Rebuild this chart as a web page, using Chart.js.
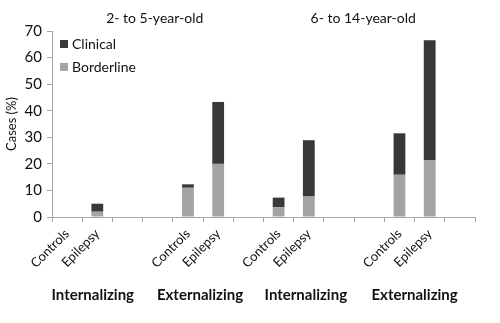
<!DOCTYPE html>
<html>
<head>
<meta charset="utf-8">
<script src="https://cdn.jsdelivr.net/npm/chart.js@4/dist/chart.umd.min.js"></script>
<style>
  html, body { margin: 0; padding: 0; background: #fff; }
</style>
</head>
<body>
<canvas id="chart" width="500" height="323"></canvas>
<script>
// categories (blank entries are the gaps between groups)
var categories = ["Controls", "Epilepsy", "", "", "Controls", "Epilepsy", "", "Controls", "Epilepsy", "", "", "Controls", "Epilepsy", ""];
var borderline = [0, 2, null, null, 11, 20, null, 3.7, 7.7, null, null, 15.9, 21.3, null];
var clinical   = [0, 3, null, null, 1.3, 23.3, null, 3.6, 21.2, null, null, 15.6, 45.2, null];
var yTicks = [0, 10, 20, 30, 40, 50, 60, 70];

// group labels under the axis and age titles above, anchored on category index
var groupLabels = ["Internalizing", "Externalizing", "Internalizing", "Externalizing"];
var groupAnchors = [0.85, 4.4, 7.9, 11.5];
var ageTitles = ["2- to 5-year-old", "6- to 14-year-old"];
var ageAnchors = [2.9, 9.8];

var FONT = "Lato, 'Liberation Sans', sans-serif";

// titles, group labels and the in-plot legend (Clinical on top)
var extraText = {
  id: 'extraText',
  afterDraw: function (chart) {
    var c = chart.ctx, x = chart.scales.x, area = chart.chartArea;
    c.save();
    c.fillStyle = '#111';
    c.textAlign = 'center';
    c.textBaseline = 'middle';
    c.font = '14px ' + FONT;
    ageTitles.forEach(function (t, i) {
      c.fillText(t, x.getPixelForValue(ageAnchors[i]), 18);
    });
    c.font = 'bold 15px ' + FONT;
    groupLabels.forEach(function (t, i) {
      c.fillText(t, x.getPixelForValue(groupAnchors[i]), 295);
    });

    c.textAlign = 'left';
    c.font = '14px ' + FONT;
    var ds = chart.data.datasets.slice().reverse();
    ds.forEach(function (d, i) {
      var y = area.top + 13 + i * 23;
      c.fillStyle = d.backgroundColor;
      c.fillRect(area.left + 8, y - 4, 8, 8);
      c.fillStyle = '#111';
      c.fillText(d.label, area.left + 20, y);
    });
    c.restore();
  }
};

var ctx = document.getElementById('chart');
new Chart(ctx, {
  type: 'bar',
  data: {
    labels: categories,
    datasets: [
      { label: 'Borderline', data: borderline, backgroundColor: '#a3a3a3' },
      { label: 'Clinical', data: clinical, backgroundColor: '#383838' }
    ]
  },
  options: {
    responsive: false,
    animation: false,
    devicePixelRatio: 1,
    barPercentage: 0.39,
    categoryPercentage: 1,
    layout: { padding: { top: 31, right: 25, left: 0, bottom: 0 } },
    plugins: {
      legend: { display: false },
      tooltip: { enabled: false }
    },
    scales: {
      x: {
        stacked: true,
        grid: { display: true, drawOnChartArea: false, tickLength: 5, color: '#a6a6a6' },
        border: { color: '#a6a6a6' },
        ticks: {
          minRotation: 45, maxRotation: 45, autoSkip: false,
          color: '#111', font: { family: FONT, size: 13 }, padding: 4
        },
        afterFit: function (s) { s.height = 106; }
      },
      y: {
        stacked: true,
        min: 0, max: 70,
        afterBuildTicks: function (s) { s.ticks = yTicks.map(function (v) { return { value: v }; }); },
        grid: { display: true, drawOnChartArea: false, tickLength: 5, color: '#a6a6a6' },
        border: { color: '#a6a6a6' },
        ticks: { color: '#111', font: { family: FONT, size: 15 }, padding: 5 },
        title: { display: true, text: 'Cases (%)', color: '#111', font: { family: FONT, size: 13 }, padding: { top: 4, bottom: 0 } },
        afterFit: function (s) { s.width = 52; }
      }
    }
  },
  plugins: [extraText]
});
</script>
</body>
</html>
